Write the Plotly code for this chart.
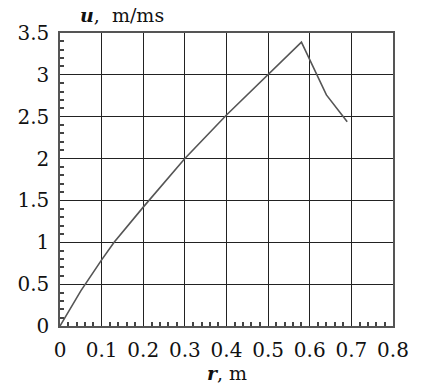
import plotly.graph_objects as go

r_vals = [0, 0.05, 0.1, 0.13, 0.2, 0.3, 0.4, 0.5, 0.58, 0.64, 0.69]
u_vals = [0, 0.42, 0.79, 1.0, 1.42, 2.0, 2.52, 3.0, 3.39, 2.76, 2.44]

x_labels = ["0", "0.1", "0.2", "0.3", "0.4", "0.5", "0.6", "0.7", "0.8"]
y_labels = ["0", "0.5", "1", "1.5", "2", "2.5", "3", "3.5"]

FONT = "DejaVu Serif"

fig = go.Figure()
fig.add_trace(go.Scatter(x=r_vals, y=u_vals, mode="lines",
                         line=dict(color="#555555", width=1.6), showlegend=False))

fig.update_layout(
    width=421, height=386,
    margin=dict(l=60, r=24, t=33, b=60),
    paper_bgcolor="white", plot_bgcolor="white",
    font=dict(family=FONT, size=20, color="#111111"),
    xaxis=dict(range=[0, 0.8], tickmode="linear", tick0=0, dtick=0.1,
               showgrid=True, gridcolor="#222222", gridwidth=1.3,
               showline=True, linecolor="#555555", linewidth=1.5, mirror=True,
               ticks="", zeroline=False, ticklabelstandoff=5,
               minor=dict(tickmode="linear", tick0=0, dtick=0.02, ticks="inside",
                          ticklen=4, tickwidth=1.5, tickcolor="#444444", showgrid=False),
               tickfont=dict(family=FONT, size=20)),
    yaxis=dict(range=[0, 3.5], tickmode="linear", tick0=0, dtick=0.5,
               showgrid=True, gridcolor="#222222", gridwidth=1.3,
               showline=True, linecolor="#555555", linewidth=1.5, mirror=True,
               ticks="", zeroline=False, ticklabelstandoff=5,
               minor=dict(tickmode="linear", tick0=0, dtick=0.1, ticks="inside",
                          ticklen=4, tickwidth=1.5, tickcolor="#444444", showgrid=False),
               tickfont=dict(family=FONT, size=20)),
    annotations=[
        dict(text="<b><i>u</i></b>,  m/ms", xref="paper", yref="paper",
             x=(123 - 60) / 337, y=1, yshift=18, showarrow=False,
             xanchor="center", yanchor="middle", font=dict(family=FONT, size=19)),
        dict(text="<b><i>r</i></b>, m", xref="paper", yref="paper",
             x=(229 - 60) / 337, y=0, yshift=-47, showarrow=False,
             xanchor="center", yanchor="middle", font=dict(family=FONT, size=19)),
    ],
)

fig.write_html("out.html")
